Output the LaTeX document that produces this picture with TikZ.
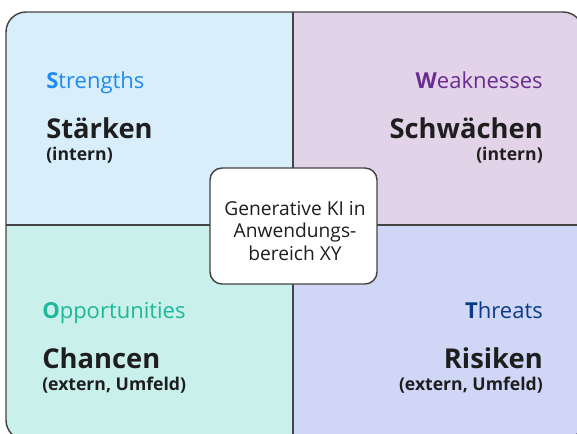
\documentclass[tikz,border=0pt]{standalone}
\usepackage{fontspec}
\setmainfont{Open Sans}
\definecolor{qS}{HTML}{D8EEFB}
\definecolor{qW}{HTML}{E2D3E8}
\definecolor{qO}{HTML}{C9F0EA}
\definecolor{qT}{HTML}{D0D6F6}
\definecolor{cS}{HTML}{1F8AF2}
\definecolor{cW}{HTML}{6A2C91}
\definecolor{cO}{HTML}{1CB89A}
\definecolor{cT}{HTML}{0B3A88}
\definecolor{edge}{HTML}{444444}
\definecolor{ink}{HTML}{1E1E1E}
\newlength{\pxu}\setlength{\pxu}{0.75pt}
\tikzset{
  eng/.style={inner sep=0pt, font=\fontsize{16.5}{18}\selectfont},
  ger/.style={inner sep=0pt, text=ink, font=\bfseries\fontsize{20.5}{24}\selectfont},
  sub/.style={inner sep=0pt, text=ink, font=\bfseries\fontsize{13.2}{15}\selectfont},
  centerbox/.style={draw=edge, line width=1.1pt, fill=white, rounded corners=9pt, minimum width=167\pxu, minimum height=116\pxu},
  centertext/.style={inner sep=0pt, align=center, text=ink, font=\fontsize{14.4}{16.6}\selectfont}
}
\begin{document}
\begin{tikzpicture}[x=0.75pt,y=-0.75pt]
\useasboundingbox (0,0) rectangle (577,433);
\begin{scope}
\clip (0,0) rectangle (577,433);
\begin{scope}
\clip[rounded corners=15pt] (6,12) rectangle (583,440);
\fill[qS] (6,12) rectangle (293,225);
\fill[qW] (293,12) rectangle (583,225);
\fill[qO] (6,225) rectangle (293,440);
\fill[qT] (293,225) rectangle (583,440);
\end{scope}
\draw[edge, line width=1.1pt] (293,12) -- (293,440);
\draw[edge, line width=1.1pt] (6,225) -- (583,225);
\draw[edge, line width=1.1pt, rounded corners=15pt] (6,12) rectangle (583,440);
\end{scope}
% quadrant labels
\node[eng, text=cS, anchor=base west] (sE) at (46,88) {\textbf{S}trengths};
\node[ger, anchor=base west] (sG) at (46,138) {Stärken};
\node[sub, anchor=base west] (sI) at (46,160) {(intern)};
\node[eng, text=cW, anchor=base east] (wE) at (543,88) {\textbf{W}eaknesses};
\node[ger, anchor=base east] (wG) at (543,138) {Schwächen};
\node[sub, anchor=base east] (wI) at (543,160) {(intern)};
\node[eng, text=cO, anchor=base west] (oE) at (42,318) {\textbf{O}pportunities};
\node[ger, anchor=base west] (oG) at (42,368) {Chancen};
\node[sub, anchor=base west] (oI) at (42,390) {(extern, Umfeld)};
\node[eng, text=cT, anchor=base east] (tE) at (543,318) {\textbf{T}hreats};
\node[ger, anchor=base east] (tG) at (543,368) {Risiken};
\node[sub, anchor=base east] (tI) at (543,390) {(extern, Umfeld)};
% center
\node[centerbox] (c) at (293.5,226) {};
\node[centertext] (ct) at (295,231) {Generative KI in\\Anwendungs-\\bereich XY};
\end{tikzpicture}
\end{document}
